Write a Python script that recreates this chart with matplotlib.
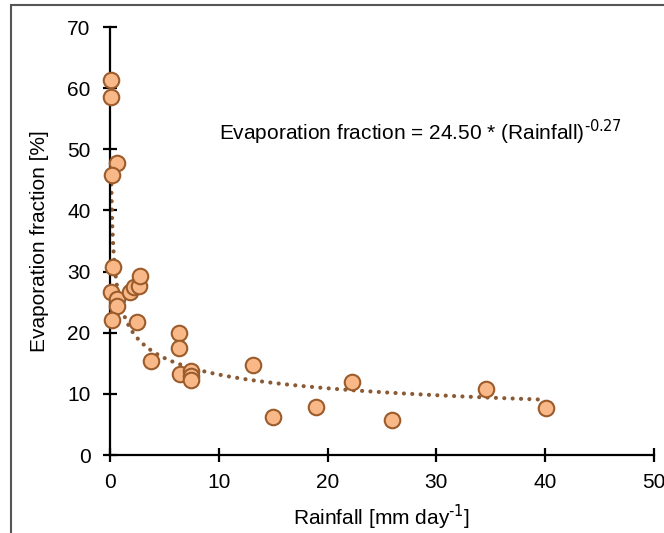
import matplotlib.pyplot as plt
import numpy as np
from matplotlib.patches import Rectangle

plt.rcParams['font.family'] = ['Liberation Sans', 'DejaVu Sans']

# rainfall (mm/day) and evaporation fraction (%)
rainfall = [0.1, 0.1, 0.65, 0.15, 0.25, 0.1, 0.6, 0.6, 0.15, 1.8, 2.2, 2.7, 2.8,
            2.5, 6.3, 6.3, 3.8, 6.4, 7.4, 7.4, 7.4, 13.1, 15.0, 18.9, 22.2,
            25.9, 34.6, 40.1]
evap_frac = [61.3, 58.6, 47.7, 45.8, 30.8, 26.7, 25.5, 24.4, 22.1, 26.7, 27.4,
             27.7, 29.2, 21.7, 19.9, 17.5, 15.4, 13.2, 13.8, 12.9, 12.3, 14.7,
             6.3, 7.9, 11.9, 5.7, 10.8, 7.7]

coef_a = 24.50
coef_b = -0.27

fig = plt.figure(figsize=(6.64, 5.33), dpi=100)
ax = fig.add_axes([0.1657, 0.1463, 0.8193, 0.803])

# power trendline
xs = np.linspace(0.1, 39.7, 400)
ax.plot(xs, coef_a * xs ** coef_b, linestyle=(0, (0.01, 2.0)), color='#8a5a35',
        linewidth=3.0, dash_capstyle='round', zorder=2)

ax.scatter(rainfall, evap_frac, s=125, facecolor='#f8b887', edgecolor='#9c5b2a',
           linewidth=1.5, zorder=3, clip_on=False)

ax.set_xlim(0, 50)
ax.set_ylim(0, 70)
ax.set_xticks(range(0, 51, 10))
ax.set_yticks(range(0, 71, 10))
for s in ['top', 'right']:
    ax.spines[s].set_visible(False)
for s in ['left', 'bottom']:
    ax.spines[s].set_linewidth(1.6)
ax.tick_params(direction='inout', length=10, width=1.6, labelsize=15)
ax.tick_params(axis='y', pad=9)
ax.tick_params(axis='x', pad=8)

ax.set_xlabel('Rainfall [mm day$^{\\text{-1}}$]', fontsize=15, labelpad=8)
ax.set_ylabel('Evaporation fraction [%]', fontsize=15, labelpad=13)

ax.text(10.0, 52.7, 'Evaporation fraction = 24.50 * (Rainfall)$^{\\text{-0.27}}$',
        fontsize=15, va='center', ha='left')

# thin grey frame round the picture
fig.patches.append(Rectangle((11 / 664, -0.1), 1.2, 1.1 - 5 / 533,
                             transform=fig.transFigure, fill=False,
                             edgecolor='#555555', linewidth=1.5))

fig.savefig('out.png', dpi=100)
